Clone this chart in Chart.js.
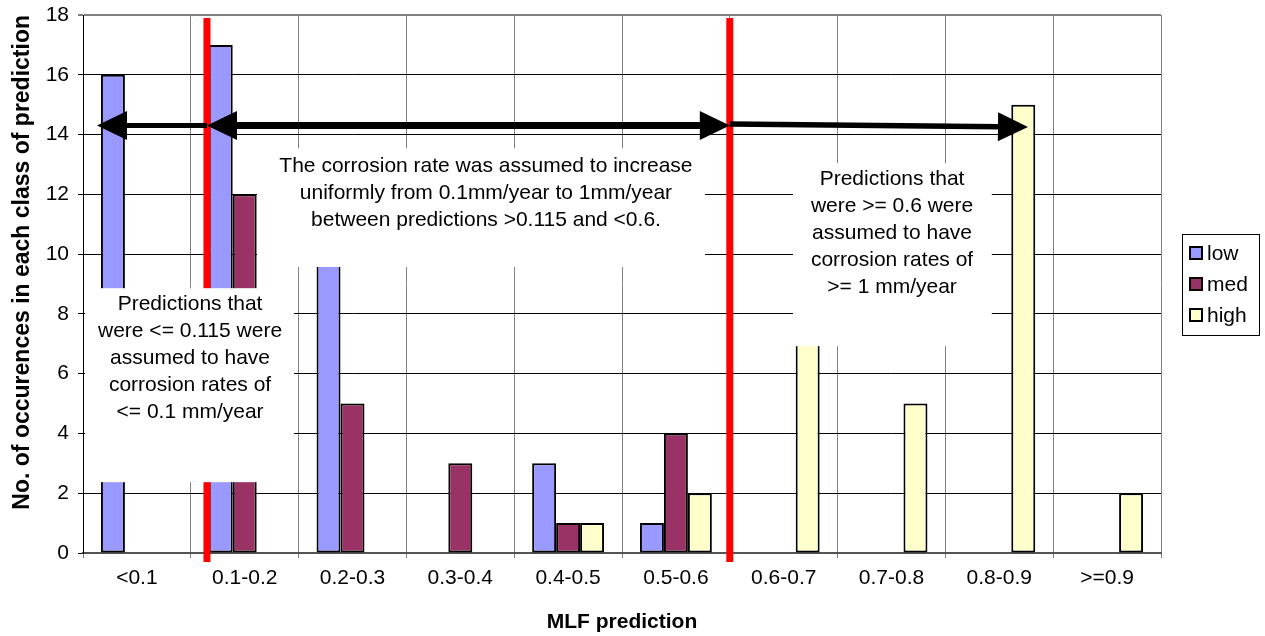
<!DOCTYPE html>
<html>
<head>
<meta charset="utf-8">
<script src="https://cdn.jsdelivr.net/npm/chart.js@4.4.1/dist/chart.umd.min.js"></script>
<style>
  html, body { margin: 0; padding: 0; background: #ffffff; }
  #wrap { width: 1265px; height: 636px; position: relative; }
</style>
</head>
<body>
<div id="wrap"><canvas id="chart" width="1265" height="636"></canvas></div>
<script>
// Prediction classes and counts of occurrences per corrosion class
const categories = ['<0.1', '0.1-0.2', '0.2-0.3', '0.3-0.4', '0.4-0.5', '0.5-0.6', '0.6-0.7', '0.7-0.8', '0.8-0.9', '>=0.9'];
const lowCounts  = [16, 17, 11, 0, 3, 1, 0, 0, 0, 0];
const medCounts  = [0, 12, 5, 3, 1, 4, 0, 0, 0, 0];
const highCounts = [0, 0, 0, 0, 1, 2, 8, 5, 15, 2];
const yTickValues = [0, 2, 4, 6, 8, 10, 12, 14, 16, 18];
const seriesNames = ['low', 'med', 'high'];
// MLF prediction thresholds (red dividers)
const thresholds = [0.115, 0.6];

const FONT = "'Liberation Sans', Arial, Helvetica, sans-serif";
Chart.defaults.font.family = FONT;
Chart.defaults.color = '#000';

// MLF value -> fractional category index (each class is 0.1 wide)
const mlfToIndex = v => v / 0.1 - 0.5;

const notes = [
  { x0: -0.48, x1: 1.457, y0: 8.86, y1: 2.37, cx: 0.493, first: 16,
    lines: ['Predictions that', 'were <= 0.115 were', 'assumed to have', 'corrosion rates of', '<= 0.1 mm/year'] },
  { x0: 1.114, x1: 5.27, y0: 13.55, y1: 9.57, cx: 3.238, first: 18,
    lines: ['The corrosion rate was assumed to increase', 'uniformly from 0.1mm/year to 1mm/year', 'between predictions >0.115 and <0.6.'] },
  { x0: 6.086, x1: 7.93, y0: 13.04, y1: 6.92, cx: 7.005, first: 16,
    lines: ['Predictions that', 'were >= 0.6 were', 'assumed to have', 'corrosion rates of', '>= 1 mm/year'] }
];

function drawArrow(ctx, x0, y0, x1, y1, width, headStart, headEnd) {
  const L = 30, H = 14.5;
  const dx = x1 - x0, dy = y1 - y0, len = Math.hypot(dx, dy);
  const ux = dx / len, uy = dy / len, nx = -uy, ny = ux;
  const sx = headStart ? x0 + ux * (L - 2) : x0, sy = headStart ? y0 + uy * (L - 2) : y0;
  const ex = headEnd ? x1 - ux * (L - 2) : x1, ey = headEnd ? y1 - uy * (L - 2) : y1;
  ctx.strokeStyle = '#000';
  ctx.lineWidth = width;
  ctx.lineCap = 'butt';
  ctx.beginPath(); ctx.moveTo(sx, sy); ctx.lineTo(ex, ey); ctx.stroke();
  ctx.fillStyle = '#000';
  const head = (tx, ty, dirx, diry) => {
    const bx = tx - dirx * L, by = ty - diry * L;
    ctx.beginPath();
    ctx.moveTo(tx, ty);
    ctx.lineTo(bx + nx * H, by + ny * H);
    ctx.lineTo(bx - nx * H, by - ny * H);
    ctx.closePath(); ctx.fill();
  };
  if (headStart) head(x0, y0, -ux, -uy);
  if (headEnd) head(x1, y1, ux, uy);
}

const overlayPlugin = {
  id: 'overlay',
  afterDatasetsDraw(chart) {
    const { ctx, scales: { x, y }, chartArea } = chart;
    ctx.save();
    // red threshold dividers
    const redX = thresholds.map(t => x.getPixelForValue(mlfToIndex(t)));
    ctx.fillStyle = '#ff0000';
    redX.forEach(px => {
      const top = y.getPixelForValue(17.9);
      ctx.fillRect(px - 3.5, top, 7, chartArea.bottom + 9 - top);
    });
    // white text boxes
    notes.forEach(n => {
      const l = x.getPixelForValue(n.x0), r = x.getPixelForValue(n.x1);
      const t = y.getPixelForValue(n.y0), b = y.getPixelForValue(n.y1);
      ctx.fillStyle = '#ffffff';
      ctx.fillRect(l, t, r - l, b - t);
      ctx.fillStyle = '#000';
      ctx.font = '21px ' + FONT;
      ctx.textAlign = 'center';
      ctx.textBaseline = 'middle';
      const cx = x.getPixelForValue(n.cx);
      n.lines.forEach((s, i) => ctx.fillText(s, cx, t + n.first + i * 27));
    });
    // arrows
    const yMain = y.getPixelForValue(14.3);
    drawArrow(ctx, redX[0], yMain, x.getPixelForValue(-0.37), yMain, 5, false, true);
    drawArrow(ctx, redX[0], yMain, redX[1], yMain, 7, true, true);
    drawArrow(ctx, redX[1], y.getPixelForValue(14.35), x.getPixelForValue(8.266), y.getPixelForValue(14.25), 5.5, false, true);
    // legend
    const lx = 1182, ly = 234, lw = 77, lh = 101;
    ctx.strokeStyle = '#000'; ctx.lineWidth = 1;
    ctx.strokeRect(lx + 0.5, ly + 0.5, lw, lh);
    ctx.font = '21px ' + FONT;
    ctx.textAlign = 'left'; ctx.textBaseline = 'middle';
    chart.data.datasets.forEach((ds, i) => {
      const cy = ly + 19 + i * 31;
      ctx.fillStyle = ds.backgroundColor;
      ctx.fillRect(1189, cy - 7, 14, 14);
      ctx.lineWidth = 2; ctx.strokeStyle = '#000';
      ctx.strokeRect(1190, cy - 6, 12, 12);
      ctx.fillStyle = '#000';
      ctx.fillText(ds.label, 1207, cy + 1);
    });
    ctx.restore();
  }
};

const barStyle = { borderColor: '#000', borderWidth: 2, borderSkipped: false };

new Chart(document.getElementById('chart'), {
  type: 'bar',
  data: {
    labels: categories,
    datasets: [
      { label: seriesNames[0], data: lowCounts,  backgroundColor: '#9999ff', ...barStyle },
      { label: seriesNames[1], data: medCounts,  backgroundColor: '#993366', ...barStyle },
      { label: seriesNames[2], data: highCounts, backgroundColor: '#ffffcc', ...barStyle }
    ]
  },
  options: {
    responsive: false,
    animation: false,
    devicePixelRatio: 1,
    layout: { padding: { top: 15, right: 104, left: 0, bottom: 0 } },
    datasets: { bar: { categoryPercentage: 0.667, barPercentage: 1 } },
    plugins: { legend: { display: false }, tooltip: { enabled: false } },
    scales: {
      x: {
        grid: { offset: true, color: '#808080', lineWidth: 1, tickLength: 5 },
        border: { color: '#555', width: 2 },
        ticks: { font: { size: 21 }, color: '#000', padding: 8, maxRotation: 0, autoSkip: false },
        title: { display: true, text: 'MLF prediction', font: { size: 21, weight: 'bold' }, color: '#000', padding: { top: 0, bottom: 1 } },
        afterFit(s) { s.height = 83; s.paddingLeft = 0; s.paddingRight = 0; }
      },
      y: {
        min: 0, max: 18,
        afterBuildTicks(s) { s.ticks = yTickValues.map(v => ({ value: v })); },
        ticks: { font: { size: 21 }, color: '#000', padding: 9 },
        grid: {
          color: c => (c.tick && c.tick.value === 18 ? '#808080' : '#000'),
          lineWidth: c => (c.tick && c.tick.value === 18 ? 2 : 1),
          tickLength: 5
        },
        border: { color: '#000', width: 1 },
        title: { display: true, align: 'end', text: 'No. of occurences in each class of prediction', font: { size: 23, weight: 'bold' }, color: '#000', padding: { top: 9, bottom: 0 } },
        afterFit(s) { s.width = 83; s.paddingTop = 0; s.paddingBottom = 0; }
      }
    }
  },
  plugins: [overlayPlugin]
});
</script>
</body>
</html>
